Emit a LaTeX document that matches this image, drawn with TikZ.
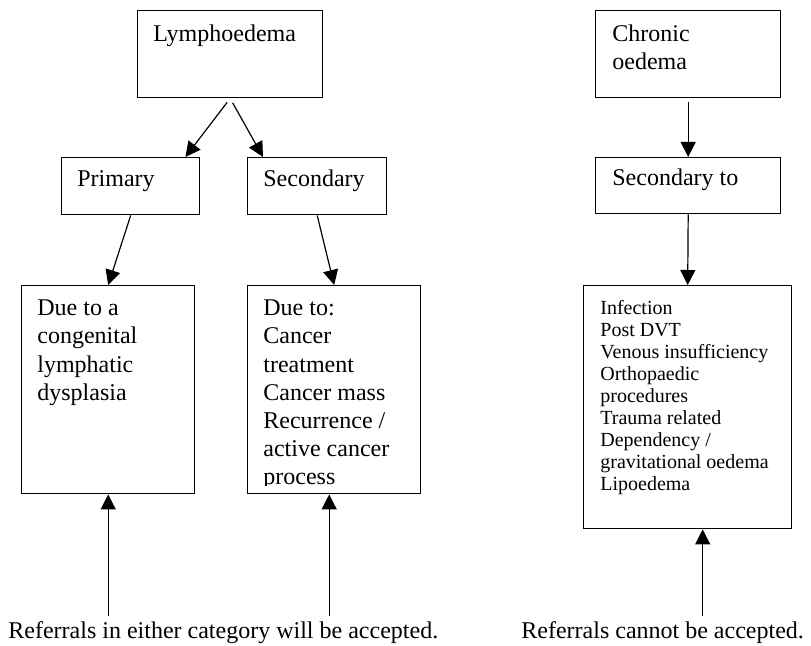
\documentclass[tikz,border=0pt]{standalone}
\usepackage{fontspec}
\setmainfont{Liberation Serif}
\usetikzlibrary{arrows.meta}

\begin{document}
\begin{tikzpicture}[x=.5pt,y=-.5pt,
		box/.style={draw,line width=.7pt,anchor=north west,inner sep=0pt},
		txt/.style={anchor=base west,inner sep=0pt,align=left,font=\fontsize{12}{14.1}\selectfont},
		multi/.style={txt,anchor=north west,execute at begin node=\strut},
		small/.style={multi,font=\fontsize{10}{11}\selectfont},
		arr/.style={-{Triangle[length=7.5pt,width=7.5pt]},line width=.6pt}]
		\useasboundingbox (0,0) rectangle (811,646);
		
		% lymphoedema side
		\node[box,minimum width=92.5pt,minimum height=43.5pt] (lymph) at (137,10) {};
		\node[txt] (tlymph) at (153,42) {Lymphoedema};
		\node[box,minimum width=69pt,minimum height=28.5pt] (prim) at (61,157) {};
		\node[txt] (tprim) at (77,187) {Primary};
		\node[box,minimum width=69.5pt,minimum height=28.5pt] (sec) at (247,157) {};
		\node[txt] (tsec) at (263,187) {Secondary};
		\node[box,minimum width=86.5pt,minimum height=104pt] (cong) at (21,285) {};
		\node[multi] (tcong) at (37,299.5) {Due to a\\congenital\\lymphatic\\dysplasia};
		\node[box,minimum width=86.5pt,minimum height=104pt] (canc) at (247,285) {};
		\begin{scope}
			\clip (247,285) rectangle (420,486);
			\node[multi] (tcanc) at (263,299.5) {Due to:\\Cancer\\treatment\\Cancer mass\\Recurrence /\\active cancer\\process};
		\end{scope}
		
		\draw[arr,shorten <=2.5pt] (lymph.south) -- ([shift={(-15,0)}]prim.north east);
		\draw[arr,shorten <=2.5pt] (lymph.south) -- ([shift={(16,0)}]sec.north west);
		\draw[arr] (prim.south) -- (cong.north);
		\draw[arr] (sec.south) -- (canc.north);
		
		% chronic oedema side
		\node[box,minimum width=92.5pt,minimum height=43.5pt] (chron) at (595,10) {};
		\node[multi] (tchron) at (612,24) {Chronic\\oedema};
		\node[box,minimum width=92.5pt,minimum height=28pt] (secto) at (595,157) {};
		\node[txt] (tsecto) at (612,186) {Secondary to};
		\node[box,minimum width=104pt,minimum height=121.5pt] (caus) at (583,285) {};
		\node[small] (tcaus) at (600,300.5) {Infection\\Post DVT\\Venous insufficiency\\Orthopaedic\\procedures\\Trauma related\\Dependency /\\gravitational oedema\\Lipoedema};
		
		\draw[arr,shorten <=2pt] (chron.south) -- (secto.north);
		\draw[arr] (secto.south) -- (caus.north);
		
		% referrals
		\node[txt,inner ysep=3pt] (acc) at (8,639) {Referrals in either category will be accepted.};
		\node[txt,inner ysep=3pt] (rej) at (521,639) {Referrals cannot be accepted.};
		\draw[arr] (cong.south |- acc.north) -- (cong.south);
		\draw[arr] ([shift={(-5,0)}]canc.south |- acc.north) -- ([shift={(-5,0)}]canc.south);
		\draw[arr] ([shift={(15,0)}]caus.south |- rej.north) -- ([shift={(15,0)}]caus.south);
\end{tikzpicture}
\end{document}
